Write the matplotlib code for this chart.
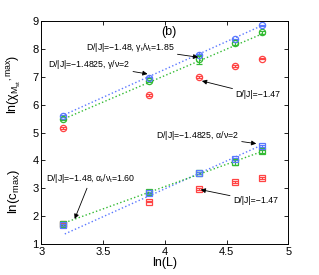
import numpy as np
import matplotlib
matplotlib.use("Agg")
import matplotlib.pyplot as plt

plt.rcParams['font.family'] = ['Liberation Sans', 'DejaVu Sans']
plt.rcParams['mathtext.fontset'] = 'custom'
plt.rcParams['mathtext.rm'] = 'Liberation Sans'
plt.rcParams['mathtext.it'] = 'Liberation Sans'

L = np.array([24, 48, 72, 96, 120])
lnL = np.log(L)

# chi_max (circles)
chi_blue = [5.60, 6.97, 7.78, 8.34, 8.84]
chi_green = [5.47, 6.85, 7.62, 8.20, 8.59]
chi_red = [5.16, 6.34, 6.98, 7.39, 7.65]
chi_blue_err = [0.03, 0.03, 0.03, 0.03, 0.03]
chi_green_err = [0.03, 0.03, 0.15, 0.05, 0.06]
chi_red_err = [0.03, 0.03, 0.03, 0.03, 0.03]

# c_max (squares)
c_blue = [1.68, 2.82, 3.55, 4.06, 4.52]
c_green = [1.70, 2.85, 3.55, 3.94, 4.33]
c_red = [1.72, 2.52, 2.97, 3.22, 3.38]
c_blue_err = [0.03, 0.03, 0.03, 0.03, 0.03]
c_green_err = [0.03, 0.03, 0.04, 0.12, 0.06]
c_red_err = [0.03, 0.03, 0.03, 0.03, 0.03]

# fit lines: (slope, intercept)
fit_chi_blue = (2.00, -0.736)
fit_chi_green = (1.90, -0.558)
fit_c_blue = (2.00, -5.02)
fit_c_green = (1.60, -3.34)
fit_x = [3.19, 4.79]

blue = '#5a78ff'
green = '#33bb33'
red = '#ff4444'

fig = plt.figure(figsize=(3.19, 2.75), dpi=100)
ax = fig.add_axes([0.1295, 0.1127, 0.7745, 0.8109])

def eb(y, err, color, marker):
    ax.errorbar(lnL, y, yerr=err, fmt=marker, mfc='none', mec=color, ecolor=color,
                ms=4.5, mew=0.9, elinewidth=0.8, capsize=2.2, capthick=0.8)

for y, e, c in [(chi_red, chi_red_err, red), (chi_green, chi_green_err, green), (chi_blue, chi_blue_err, blue)]:
    eb(y, e, c, 'o')
for y, e, c in [(c_red, c_red_err, red), (c_green, c_green_err, green), (c_blue, c_blue_err, blue)]:
    eb(y, e, c, 's')

xf = np.array(fit_x)
for (m, b), c in [(fit_chi_blue, blue), (fit_chi_green, green), (fit_c_blue, blue), (fit_c_green, green)]:
    ax.plot(xf, m * xf + b, ':', color=c, lw=1.0)

ax.set_xlim(3, 5)
ax.set_ylim(1, 9)
ax.set_xticks([3, 3.5, 4, 4.5, 5])
ax.set_xticklabels(['3', '3.5', '4', '4.5', '5'])
ax.set_yticks(range(1, 10))
ax.tick_params(direction='in', top=True, right=True, labelsize=8, length=3, width=0.6, pad=2)
for s in ax.spines.values():
    s.set_linewidth(0.7)

ax.set_xlabel('ln(L)', fontsize=9, labelpad=0)

fig.text(0.045, 0.695, r'ln($\chi_{M_{st}}$$^{,max}$)', rotation=90, fontsize=9, ha='center', va='center')
fig.text(0.045, 0.302, r'ln(c$_{max}$)', rotation=90, fontsize=9.5, ha='center', va='center')

ax.text(3.97, 8.6, '(b)', fontsize=9, ha='left', va='center')

ap = dict(arrowstyle='-|>', color='black', lw=0.6, mutation_scale=7, shrinkA=0, shrinkB=0)
fs = 6.3
ax.annotate('D/|J|=\u22121.48, $\\gamma_t/\\nu_t$=1.85', xy=(4.27, 7.7), xytext=(4.08, 8.05),
            fontsize=fs, ha='right', va='center', arrowprops=ap)
ax.annotate('D/|J|=\u22121.4825, $\\gamma/\\nu$=2', xy=(3.86, 7.1), xytext=(3.72, 7.45),
            fontsize=fs, ha='right', va='center', arrowprops=ap)
ax.annotate('D/|J|=\u22121.47', xy=(4.3, 6.85), xytext=(4.57, 6.35),
            fontsize=fs, ha='left', va='center', arrowprops=ap)
ax.annotate('D/|J|=\u22121.4825, $\\alpha/\\nu$=2', xy=(4.74, 4.6), xytext=(4.6, 4.9),
            fontsize=fs, ha='right', va='center', arrowprops=ap)
ax.annotate('D/|J|=\u22121.48, $\\alpha_t/\\nu_t$=1.60', xy=(3.27, 1.9), xytext=(3.4, 3.1),
            fontsize=fs, ha='center', va='bottom', arrowprops=ap)
ax.annotate('D/|J|=\u22121.47', xy=(4.29, 2.95), xytext=(4.55, 2.55),
            fontsize=fs, ha='left', va='center', arrowprops=ap)

fig.savefig('out.png', dpi=100)
